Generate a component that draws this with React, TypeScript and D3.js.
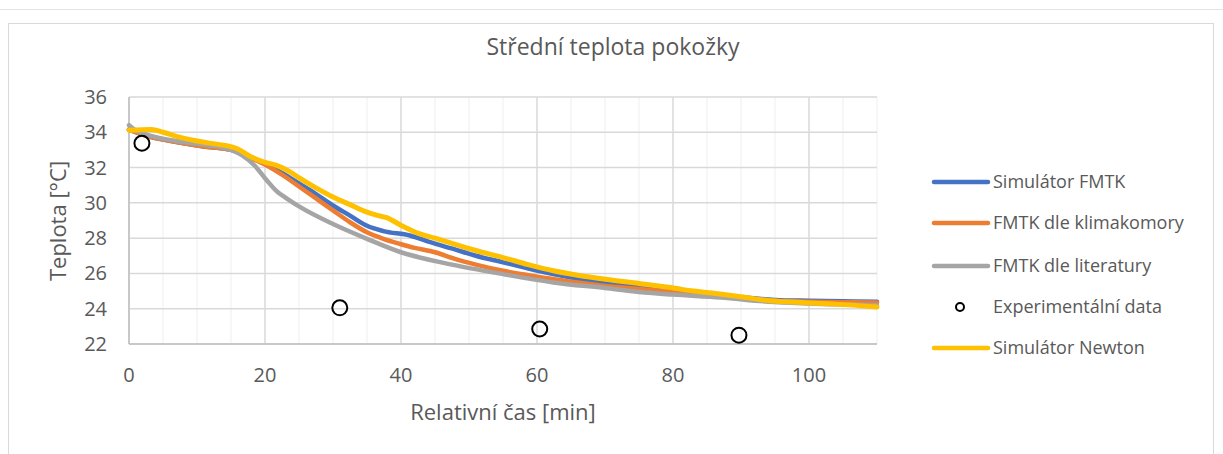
import React from "react";
import * as d3 from "d3";

const title = "Střední teplota pokožky";
const xTitle = "Relativní čas [min]";
const yTitle = "Teplota [°C]";
const xTicks = [0, 20, 40, 60, 80, 100];
const yTicks = [22, 24, 26, 28, 30, 32, 34, 36];

const seriesNames = [
  "Simulátor FMTK",
  "FMTK dle klimakomory",
  "FMTK dle literatury",
  "Experimentální data",
  "Simulátor Newton",
];
const seriesColors = ["#4472C4", "#ED7D31", "#A5A5A5", "#000000", "#FFC000"];

const simFMTK: [number, number][] = [
  [0, 34.15], [3, 33.75], [7, 33.45], [11, 33.2], [15, 33.0], [17, 32.7], [20, 32.2],
  [22.5, 31.7], [25, 31.1], [27.5, 30.5], [30, 29.85], [32.5, 29.28], [35, 28.7],
  [37.4, 28.4], [41.3, 28.15], [44.3, 27.77], [47.7, 27.39], [51, 27.0], [55, 26.63],
  [58.5, 26.3], [62.4, 25.96], [66, 25.7], [69.8, 25.49], [75, 25.24], [80, 25.05],
  [85, 24.85], [90, 24.65], [95, 24.5], [100, 24.45], [105, 24.42], [110, 24.4],
];
const fmtkKlima: [number, number][] = [
  [0, 34.15], [3, 33.75], [7, 33.45], [11, 33.2], [15, 33.0], [17, 32.7], [20.2, 32.13],
  [22.5, 31.6], [25.1, 30.9], [27.5, 30.25], [30, 29.57], [32.5, 28.9], [35, 28.33],
  [37.4, 27.96], [39.9, 27.67], [42, 27.45], [45, 27.2], [47.7, 26.85], [51, 26.5],
  [55, 26.15], [58.7, 25.9], [62.4, 25.68], [66, 25.48], [69.8, 25.3], [75, 25.12],
  [80, 24.95], [85, 24.75], [90, 24.6], [95, 24.45], [100, 24.4], [105, 24.37], [110, 24.35],
];
const fmtkLit: [number, number][] = [
  [0, 34.4], [1, 34.1], [2.35, 33.9], [7.7, 33.46], [11.6, 33.27], [15, 33.0], [16.6, 32.7],
  [18.5, 32.1], [20, 31.4], [21.9, 30.6], [23, 30.3], [25, 29.8], [30, 28.8], [35, 27.96],
  [40, 27.2], [47.5, 26.5], [55, 25.96], [62.4, 25.49], [70, 25.17], [75, 24.95],
  [80, 24.8], [87, 24.64], [94, 24.4], [100, 24.3], [110, 24.2],
];
const expData: [number, number][] = [
  [1.9, 33.38], [31, 24.05], [60.4, 22.85], [89.7, 22.5],
];
const simNewton: [number, number][] = [
  [0, 34.12], [3.3, 34.16], [5, 34.0], [7.7, 33.7], [11.6, 33.4], [15.1, 33.17], [16, 33.05],
  [18, 32.6], [20, 32.3], [21.7, 32.13], [23.5, 31.8], [25.1, 31.4], [27.5, 30.85],
  [30, 30.33], [32.5, 29.9], [35, 29.47], [36.4, 29.3], [38, 29.15], [39.9, 28.75],
  [42.8, 28.24], [45, 28.0], [47.5, 27.7], [51, 27.3], [55, 26.9], [58.7, 26.5],
  [62.4, 26.15], [66, 25.9], [69.8, 25.68], [75, 25.43], [79.6, 25.2], [83, 25.0],
  [86.9, 24.83], [90, 24.68], [94.3, 24.45], [99.1, 24.35], [104, 24.26], [110, 24.1],
];

const FONT = "'Open Sans', sans-serif";
const TEXT = "#595959";

export default function App() {
  const x = d3.scaleLinear().domain([0, 110]).range([129, 877]);
  const y = d3.scaleLinear().domain([22, 36]).range([344, 97]);
  const line = d3
    .line<[number, number]>()
    .x((d) => x(d[0]))
    .y((d) => y(d[1]))
    .curve(d3.curveMonotoneX);

  const minorX = d3.range(0, 111, 5);
  const lines = [
    { data: simFMTK, i: 0 },
    { data: fmtkKlima, i: 1 },
    { data: fmtkLit, i: 2 },
  ];
  const legendY = [182, 223, 266, 307, 348];

  return (
    <svg
      width={1223}
      height={454}
      style={{ position: "absolute", left: 0, top: 0, background: "#fff" }}
      fontFamily={FONT}
    >
      <line x1={0} x2={1223} y1={9.5} y2={9.5} stroke="#E3E3E3" strokeWidth={1} />
      <rect x={8.5} y={23.5} width={1205} height={460} fill="#fff" stroke="#D9D9D9" strokeWidth={1} />

      <text x={613} y={55} textAnchor="middle" fontSize={23} fill={TEXT}>
        {title}
      </text>

      {/* minor vertical gridlines */}
      {minorX.map((v) => (
        <line
          key={"mx" + v}
          x1={x(v)}
          x2={x(v)}
          y1={y(36)}
          y2={y(22)}
          stroke={v % 20 === 0 ? "#D9D9D9" : "#EFEFEF"}
          strokeWidth={v % 20 === 0 ? 1.5 : 1}
        />
      ))}
      {yTicks.map((t) => (
        <line key={"gy" + t} x1={x(0)} x2={x(110)} y1={y(t)} y2={y(t)} stroke="#D9D9D9" strokeWidth={1.5} />
      ))}
      <line x1={x(0)} x2={x(0)} y1={y(36)} y2={y(22)} stroke="#BFBFBF" strokeWidth={1.5} />
      <line x1={x(0)} x2={x(110)} y1={y(22)} y2={y(22)} stroke="#BFBFBF" strokeWidth={1.5} />

      {yTicks.map((t) => (
        <text key={"yl" + t} x={107} y={y(t) + 7} textAnchor="end" fontSize={20} fill={TEXT}>
          {t}
        </text>
      ))}
      {xTicks.map((t) => (
        <text key={"xl" + t} x={x(t)} y={382} textAnchor="middle" fontSize={20} fill={TEXT}>
          {t}
        </text>
      ))}
      <text x={503} y={420} textAnchor="middle" fontSize={22} fill={TEXT}>
        {xTitle}
      </text>
      <text
        transform={`translate(66,221) rotate(-90)`}
        textAnchor="middle"
        fontSize={22}
        fill={TEXT}
      >
        {yTitle}
      </text>

      {lines.map((l) => (
        <path
          key={"s" + l.i}
          d={line(l.data) || ""}
          fill="none"
          stroke={seriesColors[l.i]}
          strokeWidth={4.5}
          strokeLinejoin="round"
          strokeLinecap="round"
        />
      ))}
      <path
        d={line(simNewton) || ""}
        fill="none"
        stroke={seriesColors[4]}
        strokeWidth={5}
        strokeLinejoin="round"
        strokeLinecap="round"
      />
      {expData.map((d, k) => (
        <circle key={"e" + k} cx={x(d[0])} cy={y(d[1])} r={7.5} fill="none" stroke="#000" strokeWidth={2} />
      ))}

      {seriesNames.map((n, i) => (
        <g key={"lg" + i}>
          {i === 3 ? (
            <circle cx={960} cy={legendY[i]} r={4} fill="none" stroke="#000" strokeWidth={2} />
          ) : (
            <line
              x1={934}
              x2={988}
              y1={legendY[i]}
              y2={legendY[i]}
              stroke={seriesColors[i]}
              strokeWidth={4.5}
              strokeLinecap="round"
            />
          )}
          <text x={993} y={legendY[i] + 6} fontSize={18} fill={TEXT}>
            {n}
          </text>
        </g>
      ))}
    </svg>
  );
}
